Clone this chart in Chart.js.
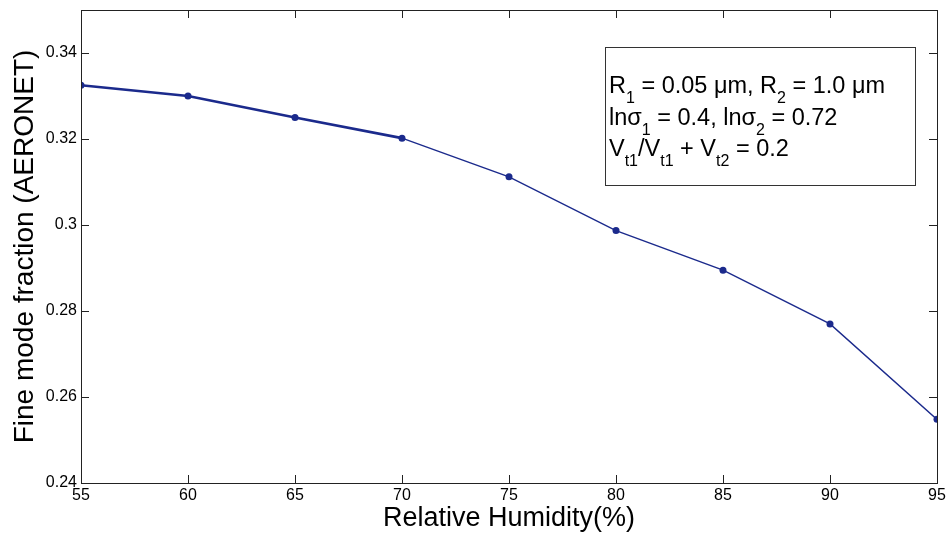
<!DOCTYPE html>
<html><head><meta charset="utf-8">
<script src="https://cdn.jsdelivr.net/npm/chart.js@4"></script>
<style>html,body{margin:0;padding:0;background:#fff}#wrap{width:950px;height:535px}</style>
</head><body><div id="wrap"><canvas id="c" width="950" height="535"></canvas></div>
<script>
const humidity = [55, 60, 65, 70, 75, 80, 85, 90, 95];
const fineModeFraction = [0.3325, 0.3300, 0.3250, 0.3202, 0.3112, 0.2987, 0.2895, 0.2770, 0.2548];
const xTicks = [55, 60, 65, 70, 75, 80, 85, 90, 95];
const yTicks = [0.24, 0.26, 0.28, 0.30, 0.32, 0.34];
const annotationLines = [
  [["R",""],["1","sub"],[" = 0.05 μm, R",""],["2","sub"],[" = 1.0 μm",""]],
  [["lnσ",""],["1","sub"],[" = 0.4, lnσ",""],["2","sub"],[" = 0.72",""]],
  [["V",""],["t1","sub"],["/V",""],["t1","sub"],[" + V",""],["t2","sub"],[" = 0.2",""]]
];
const FONT = '"Liberation Sans", Arial, sans-serif';
const BLUE = '#1b2a8c';

const boxPlugin = {
  id: 'matlabBox',
  afterDraw(chart) {
    const {ctx, chartArea: a, scales: {x, y}} = chart;
    ctx.save();
    ctx.strokeStyle = '#222';
    ctx.lineWidth = 1;
    ctx.strokeRect(Math.round(a.left)+0.5, Math.round(a.top)+0.5, Math.round(a.right-a.left), Math.round(a.bottom-a.top));
    const tl = 8;
    ctx.beginPath();
    xTicks.forEach(v => {
      const px = Math.round(x.getPixelForValue(v)) + 0.5;
      ctx.moveTo(px, a.bottom); ctx.lineTo(px, a.bottom - tl);
      ctx.moveTo(px, a.top); ctx.lineTo(px, a.top + tl);
    });
    yTicks.forEach(v => {
      const py = Math.round(y.getPixelForValue(v)) + 0.5;
      ctx.moveTo(a.left, py); ctx.lineTo(a.left + tl, py);
      ctx.moveTo(a.right, py); ctx.lineTo(a.right - tl, py);
    });
    ctx.stroke();
    // annotation box
    const bx = 605.5, by = 47.5, bw = 310, bh = 138;
    ctx.fillStyle = '#fff';
    ctx.fillRect(bx, by, bw, bh);
    ctx.strokeStyle = '#333';
    ctx.strokeRect(bx, by, bw, bh);
    ctx.fillStyle = '#000';
    ctx.textBaseline = 'alphabetic';
    const baselines = [93, 125, 156];
    annotationLines.forEach((segs, i) => {
      let cx = 609;
      segs.forEach(([t, kind]) => {
        if (kind === 'sub') {
          ctx.font = '16px ' + FONT;
          ctx.fillText(t, cx, baselines[i] + 10);
        } else {
          ctx.font = '23.5px ' + FONT;
          ctx.fillText(t, cx, baselines[i]);
        }
        cx += ctx.measureText(t).width;
      });
    });
    ctx.restore();
  }
};

new Chart(document.getElementById('c'), {
  type: 'line',
  data: {
    labels: humidity,
    datasets: [{
      data: humidity.map((h, i) => ({x: h, y: fineModeFraction[i]})),
      borderColor: BLUE,
      backgroundColor: BLUE,
      pointRadius: 3.5,
      pointBorderWidth: 0,
      borderWidth: 1.4,
      segment: { borderWidth: c => c.p0DataIndex < 3 ? 2.6 : 1.4 },
      tension: 0,
      fill: false
    }]
  },
  options: {
    responsive: false,
    animation: false,
    devicePixelRatio: 1,
    layout: { padding: { left: 0, top: 10, right: 13, bottom: 0 } },
    plugins: { legend: { display: false }, tooltip: { enabled: false } },
    scales: {
      x: {
        type: 'linear', min: 55, max: 95,
        afterFit: s => { s.height = 52; s.paddingLeft = 0; s.paddingRight = 0; },
        afterBuildTicks: s => { s.ticks = xTicks.map(v => ({value: v})); },
        grid: { display: false, drawTicks: false },
        border: { display: false },
        ticks: { color: '#000', font: { size: 16, family: FONT }, padding: 3, maxRotation: 0 },
        title: { display: true, text: 'Relative Humidity(%)', color: '#000', font: { size: 27, family: FONT }, padding: { top: 0, bottom: 0 } }
      },
      y: {
        type: 'linear', min: 0.24, max: 0.35,
        afterFit: s => { s.width = 81; s.paddingTop = 0; s.paddingBottom = 0; },
        afterBuildTicks: s => { s.ticks = yTicks.map(v => ({value: v})); },
        grid: { display: false, drawTicks: false },
        border: { display: false },
        ticks: { color: '#000', font: { size: 16, family: FONT }, padding: 4, callback: v => String(+v.toFixed(2)) },
        title: { display: true, text: 'Fine mode fraction (AERONET)', color: '#000', font: { size: 28, family: FONT }, padding: { top: 8, bottom: 0 } }
      }
    }
  },
  plugins: [boxPlugin]
});
</script></body></html>
